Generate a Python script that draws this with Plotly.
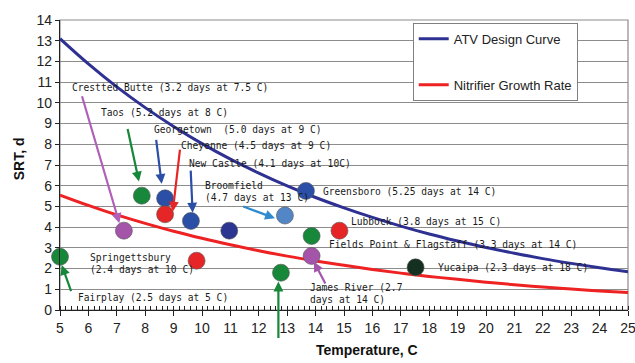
import plotly.graph_objects as go

# ---------------- data ----------------
temps = list(range(5, 26))
atv_srt = [13.1, 11.88, 10.77, 9.77, 8.86, 8.03, 7.28, 6.61, 5.99, 5.43, 4.93,
           4.47, 4.05, 3.67, 3.33, 3.02, 2.74, 2.48, 2.25, 2.04, 1.85]
nitrifier_srt = [5.55, 5.05, 4.59, 4.18, 3.80, 3.46, 3.15, 2.86, 2.60, 2.37, 2.16,
                 1.96, 1.78, 1.62, 1.48, 1.34, 1.22, 1.11, 1.01, 0.92, 0.84]

plant_temp = [5.0, 7.25, 7.88, 8.70, 8.70, 9.61, 10.96, 9.81, 12.92, 12.78,
              13.86, 13.86, 13.66, 14.84, 17.52]
plant_srt = [2.57, 3.83, 5.52, 5.39, 4.62, 4.30, 3.83, 2.38, 4.56, 1.80,
             3.57, 2.61, 5.75, 3.83, 2.06]
plant_colors = ["#17873a", "#a455aa", "#17873a", "#2b4ea6", "#e62626", "#2b4ea6",
                "#2c3590", "#e62626", "#5386c6", "#17873a", "#17873a", "#a455aa",
                "#2b4ea6", "#e62626", "#143020"]

# labels: text, left x, centre y
label_texts = ["Crestted Butte (3.2 days at 7.5 C)", "Taos (5.2 days at 8 C)",
               "Georgetown  (5.0 days at 9 C)", "Cheyenne (4.5 days at 9 C)",
               "New Castle (4.1 days at 10C)", "Broomfield<br>(4.7 days at 13 C)",
               "Greensboro (5.25 days at 14 C)", "Lubbock (3.8 days at 15 C)",
               "Fields Point & Flagstaff (3.3 days at 14 C)", "Yucaipa (2.3 days at 18 C)",
               "James River (2.7<br>days at 14 C)", "Springettsbury<br>(2.4 days at 10 C)",
               "Fairplay (2.5 days at 5 C)", "Mamaroneck<br>(1.8 days at 13 C)"]
label_x = [5.35, 6.38, 8.23, 9.19, 9.46, 10.05, 14.18, 15.18, 14.39, 18.24, 13.74, 6.0, 5.56, 9.46]
label_y = [10.72, 9.53, 8.73, 7.92, 7.09, 5.71, 5.71, 4.27, 3.17, 2.06, 0.78, 2.24, 0.61, -1.98]

# arrows: tail (x,y) -> head (x,y), colour
arrow_tail_x = [5.76, 7.37, 8.38, 9.23, 9.60, 11.40, 5.41, 12.69, 14.37]
arrow_tail_y = [10.39, 8.81, 8.29, 7.81, 6.80, 5.02, 0.84, -1.42, 1.21]
arrow_head_x = [7.09, 7.78, 8.58, 8.97, 9.67, 12.57, 5.06, 12.69, 13.94]
arrow_head_y = [4.19, 6.20, 6.09, 4.75, 4.70, 4.43, 2.17, 1.37, 2.33]
arrow_colors = ["#b060b8", "#17873a", "#2b4ea6", "#e62626", "#2b4ea6", "#2f8ad0",
                "#17873a", "#17873a", "#a455aa"]

# ---------------- figure ----------------
fig = go.Figure()
fig.add_trace(go.Scatter(x=temps, y=atv_srt, mode="lines", name="ATV Design Curve",
                         line=dict(color="#2e3192", width=3, shape="spline"),
                         legendgroup="a"))
fig.add_trace(go.Scatter(x=temps, y=nitrifier_srt, mode="lines", name="Nitrifier Growth Rate",
                         line=dict(color="#ee2222", width=3, shape="spline"),
                         legendgroup="b"))
fig.add_trace(go.Scatter(x=plant_temp, y=plant_srt, mode="markers", showlegend=False,
                         cliponaxis=False,
                         marker=dict(size=17, color=plant_colors,
                                     line=dict(color="#555555", width=0.6))))

annotations = []
for t, x, y in zip(label_texts, label_x, label_y):
    annotations.append(dict(x=x, y=y, xref="x", yref="y", text=t, showarrow=False,
                            xanchor="left", yanchor="middle", align="left",
                            font=dict(family="DejaVu Sans Mono", size=9.6, color="#1a1a1a")))
for tx, ty, hx, hy, c in zip(arrow_tail_x, arrow_tail_y, arrow_head_x, arrow_head_y, arrow_colors):
    annotations.append(dict(x=hx, y=hy, ax=tx, ay=ty, xref="x", yref="y",
                            axref="x", ayref="y", text="", showarrow=True,
                            arrowhead=2, arrowsize=0.9, arrowwidth=2.2,
                            arrowcolor=c, standoff=0, startstandoff=0))
annotations.append(dict(x=15.8, y=-0.138, xref="x", yref="paper", text="<b>Temperature, C</b>",
                        showarrow=False, xanchor="center", yanchor="middle",
                        font=dict(family="Liberation Sans", size=14, color="#111111")))
annotations.append(dict(x=-0.072, y=0.52, xref="paper", yref="paper", text="<b>SRT, d</b>",
                        showarrow=False, textangle=-90, xanchor="center", yanchor="middle",
                        font=dict(family="Liberation Sans", size=14, color="#111111")))

fig.update_layout(
    width=635, height=363, autosize=False,
    margin=dict(l=60, r=7, t=20, b=53, autoexpand=False),
    paper_bgcolor="white", plot_bgcolor="white",
    font=dict(family="Liberation Sans", size=14, color="#222222"),
    showlegend=True,
    legend=dict(x=0.621, y=0.99, xanchor="left", yanchor="top",
                bgcolor="white", bordercolor="#808080", borderwidth=1,
                font=dict(family="Liberation Sans", size=13, color="#222222"),
                tracegroupgap=26, itemwidth=30),
    annotations=annotations,
    xaxis=dict(range=[5, 25], dtick=1, tick0=5, showgrid=False, zeroline=False,
               automargin=False,
               showline=True, linecolor="#222222", linewidth=1.2,
               ticks="outside", ticklen=5, tickcolor="#222222",
               minor=dict(dtick=0.2, ticks="inside", ticklen=4, tickcolor="#222222"),
               ticklabeloverflow="allow",
               tickfont=dict(size=14, color="#222222")),
    yaxis=dict(range=[0, 14], dtick=1, tick0=0, showgrid=True, gridcolor="#8c8c8c",
               automargin=False,
               gridwidth=1, zeroline=False, showline=True, linecolor="#222222",
               linewidth=1.2, ticks="outside", ticklen=4, tickcolor="#222222",
               tickfont=dict(size=14, color="#222222")),
    shapes=[dict(type="rect", xref="paper", yref="paper", x0=0, y0=0, x1=1, y1=1,
                 line=dict(color="#8c8c8c", width=1.2), layer="below")],
)

fig.write_html("out.html", config={"displayModeBar": False},
               post_script="document.body.style.margin='0';document.body.style.overflow='hidden';")
